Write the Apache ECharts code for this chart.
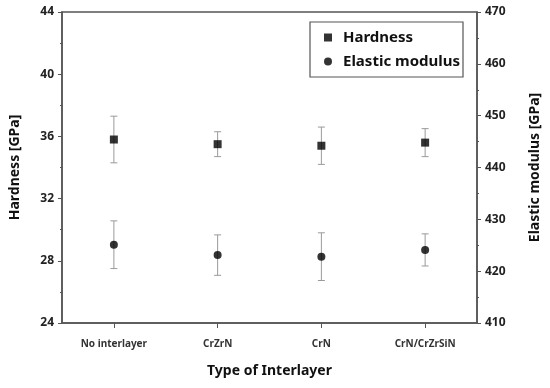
<!DOCTYPE html>
<html>
<head>
<meta charset="utf-8">
<script src="https://cdn.jsdelivr.net/npm/echarts@6/dist/echarts.min.js"></script>
<style>
html,body{margin:0;padding:0;background:#fff;}
#chart{width:550px;height:388px;}
</style>
</head>
<body>
<div id="chart"></div>
<script>
const categories = ['No interlayer', 'CrZrN', 'CrN', 'CrN/CrZrSiN'];
const hardness = [35.8, 35.5, 35.4, 35.6];
const hardnessErr = [1.5, 0.8, 1.2, 0.9];
const modulus = [425.1, 423.1, 422.8, 424.1];
const modulusErr = [4.6, 3.9, 4.6, 3.1];
const leftTicks = { min: 24, max: 44, interval: 4 };
const rightTicks = { min: 410, max: 470, interval: 10 };

const FONT = 'Noto Sans';
const AXIS = '#555';

function errData(vals, errs) {
  return vals.map((v, i) => [i, v - errs[i], v + errs[i]]);
}
function renderErr(params, api) {
  const i = api.value(0);
  const lo = api.coord([i, api.value(1)]);
  const hi = api.coord([i, api.value(2)]);
  const w = 3.5;
  const style = { stroke: '#9a9a9a', lineWidth: 1 };
  return {
    type: 'group',
    children: [
      { type: 'line', shape: { x1: lo[0], y1: lo[1], x2: hi[0], y2: hi[1] }, style },
      { type: 'line', shape: { x1: lo[0] - w, y1: lo[1], x2: lo[0] + w, y2: lo[1] }, style },
      { type: 'line', shape: { x1: hi[0] - w, y1: hi[1], x2: hi[0] + w, y2: hi[1] }, style }
    ]
  };
}

const yCommon = {
  type: 'value',
  nameLocation: 'middle',
  nameRotate: 90,
  nameTextStyle: { fontFamily: FONT, fontWeight: 'bold', fontSize: 14, color: '#111' },
  axisLine: { show: true, lineStyle: { color: AXIS, width: 1.5 } },
  axisTick: { show: true, length: 4, lineStyle: { color: AXIS } },
  minorTick: { show: true, splitNumber: 2, length: 2, lineStyle: { color: AXIS } },
  splitLine: { show: false },
  axisLabel: { fontFamily: FONT, fontWeight: 'bold', fontSize: 12, color: '#222', margin: 8 }
};

const chart = echarts.init(document.getElementById('chart'), null, { renderer: 'canvas' });
chart.setOption({
  animation: false,
  backgroundColor: '#fff',
  grid: { left: 62, right: 65, top: 12, bottom: 65, show: true, borderColor: AXIS, borderWidth: 1.5 },
  legend: {
    left: 310, top: 22,
    orient: 'vertical',
    borderColor: AXIS, borderWidth: 1.2,
    padding: [8, 3, 8, 14],
    itemGap: 9,
    itemWidth: 8, itemHeight: 8,
    textStyle: { fontFamily: FONT, fontWeight: 'bold', fontSize: 15, color: '#111', padding: [0, 0, 0, 6] },
    data: [
      { name: 'Hardness', icon: 'rect' },
      { name: 'Elastic modulus', icon: 'circle' }
    ]
  },
  xAxis: {
    type: 'category',
    data: categories,
    name: 'Type of Interlayer',
    nameLocation: 'middle',
    nameGap: 41,
    nameTextStyle: { fontFamily: FONT, fontWeight: 'bold', fontSize: 14, color: '#111' },
    axisLine: { show: true, lineStyle: { color: AXIS, width: 1.5 } },
    axisTick: { show: true, alignWithLabel: true, length: 5, lineStyle: { color: AXIS } },
    axisLabel: { fontFamily: FONT, fontWeight: 'bold', fontSize: 10, color: '#333', margin: 16 },
    splitLine: { show: false }
  },
  yAxis: [
    Object.assign({}, yCommon, {
      name: 'Hardness [GPa]', nameGap: 40, position: 'left',
      min: leftTicks.min, max: leftTicks.max, interval: leftTicks.interval
    }),
    Object.assign({}, yCommon, {
      name: 'Elastic modulus [GPa]', nameGap: 51, position: 'right',
      min: rightTicks.min, max: rightTicks.max, interval: rightTicks.interval
    })
  ],
  series: [
    {
      type: 'custom', name: 'HardnessErr', yAxisIndex: 0, z: 1,
      renderItem: renderErr, encode: { x: 0, y: [1, 2] },
      data: errData(hardness, hardnessErr)
    },
    {
      type: 'custom', name: 'ModulusErr', yAxisIndex: 1, z: 1,
      renderItem: renderErr, encode: { x: 0, y: [1, 2] },
      data: errData(modulus, modulusErr)
    },
    {
      type: 'scatter', name: 'Hardness', yAxisIndex: 0, z: 3,
      symbol: 'rect', symbolSize: 8,
      itemStyle: { color: '#000' },
      data: hardness
    },
    {
      type: 'scatter', name: 'Elastic modulus', yAxisIndex: 1, z: 3,
      symbol: 'circle', symbolSize: 8,
      itemStyle: { color: '#000' },
      data: modulus
    }
  ]
});
</script>
</body>
</html>
